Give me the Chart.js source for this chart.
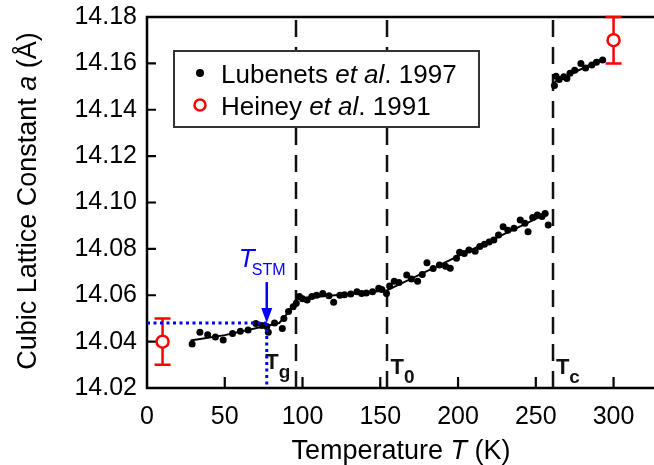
<!DOCTYPE html>
<html>
<head>
<meta charset="utf-8">
<script src="https://cdn.jsdelivr.net/npm/chart.js@4.4.0/dist/chart.umd.min.js"></script>
<style>
  html, body { margin: 0; padding: 0; background: #fff; }
  #wrap { width: 654px; height: 465px; }
</style>
</head>
<body>
<div id="wrap"><canvas id="chart" width="654" height="465"></canvas></div>
<script>
var FONT = "'Liberation Sans', Arial, sans-serif";

// Lubenets et al. 1997 (T in K, a in Angstrom)
var lubT = [29, 34, 39, 44, 49, 55, 60, 65, 70, 74, 77, 78, 82, 87, 88, 91, 94, 96,
  98, 100, 103, 106, 109, 113, 117, 120, 124, 127, 131, 135, 138, 141, 145, 149, 151, 154,
  156, 159, 162, 167, 170, 174, 177, 180, 184, 188, 192, 195, 199, 201, 204, 207, 211, 214,
  217, 220, 223, 226, 229, 232, 236, 240, 243, 245, 248, 251, 254, 256, 258,
  262, 263, 265, 268, 270, 272, 275, 279, 282, 286, 289, 293];
var lubA = [14.0390, 14.0440, 14.0430, 14.0420, 14.0407, 14.0435, 14.0445, 14.0450, 14.0478, 14.0470, 14.0465, 14.0440, 14.0480, 14.0457, 14.0500, 14.0530, 14.0550, 14.0565,
  14.0595, 14.0585, 14.0580, 14.0595, 14.0600, 14.0608, 14.0598, 14.0570, 14.0600, 14.0602, 14.0605, 14.0615, 14.0608, 14.0610, 14.0615, 14.0630, 14.0625, 14.0608,
  14.0640, 14.0660, 14.0655, 14.0687, 14.0670, 14.0660, 14.0690, 14.0740, 14.0715, 14.0730, 14.0725, 14.0716, 14.0760, 14.0785, 14.0780, 14.0795, 14.0790, 14.0810,
  14.0820, 14.0830, 14.0838, 14.0860, 14.0895, 14.0880, 14.0889, 14.0924, 14.0910, 14.0874, 14.0935, 14.0946, 14.0940, 14.0953, 14.0903,
  14.1505, 14.1545, 14.1530, 14.1542, 14.1535, 14.1557, 14.1570, 14.1600, 14.1580, 14.1593, 14.1605, 14.1615];

// fitted lines through the Lubenets data
var fitLowT = [28, 50, 75, 85, 90, 96];
var fitLowA = [14.0405, 14.0428, 14.0465, 14.0480, 14.0520, 14.0575];
var fitMidT = [96, 154, 258];
var fitMidA = [14.0585, 14.0620, 14.0955];
var fitHighT = [262, 293];
var fitHighA = [14.1520, 14.1620];

// Heiney et al. 1991
var heineyT = [10, 300];
var heineyA = [14.040, 14.170];
var heineyErr = [0.010, 0.010];

// transition temperatures
var transT = [96, 154, 261];
var transSub = ["g", "0", "c"];

// STM temperature marker
var stmT = 77;
var stmA = 14.048;

// axes
var xMin = 0, xMax = 326, xStep = 50;
var yMin = 14.02, yMax = 14.18, yStep = 0.02;

function pts(xs, ys) {
  return xs.map(function(x, i) { return { x: x, y: ys[i] }; });
}

function richText(ctx, parts, x, y, align) {
  var total = 0;
  parts.forEach(function(p) { ctx.font = p.f; p.w = ctx.measureText(p.t).width; total += p.w; });
  var cx = align === "center" ? x - total / 2 : x;
  ctx.textAlign = "left";
  parts.forEach(function(p) {
    ctx.font = p.f;
    ctx.fillText(p.t, cx, y + (p.dy || 0));
    cx += p.w;
  });
}

var extras = {
  id: "extras",
  beforeDatasetsDraw: function(chart) {
    var ctx = chart.ctx, xs = chart.scales.x, ys = chart.scales.y, ca = chart.chartArea;
    ctx.save();
    // frame: left, bottom, top
    ctx.strokeStyle = "#000";
    ctx.lineWidth = 2.5;
    ctx.beginPath();
    ctx.moveTo(ca.right, ca.top); ctx.lineTo(ca.left, ca.top);
    ctx.lineTo(ca.left, ca.bottom); ctx.lineTo(ca.right, ca.bottom);
    ctx.stroke();
    // inward ticks
    ctx.lineWidth = 2.2;
    ctx.beginPath();
    for (var v = yMin + yStep; v < yMax - yStep / 2; v += yStep) {
      var py = ys.getPixelForValue(v);
      ctx.moveTo(ca.left, py); ctx.lineTo(ca.left + 9, py);
    }
    for (var t = xMin + xStep; t <= xMax; t += xStep) {
      var px = xs.getPixelForValue(t);
      ctx.moveTo(px, ca.bottom); ctx.lineTo(px, ca.bottom - 11);
    }
    ctx.stroke();
    // dashed transition lines
    ctx.strokeStyle = "#111";
    ctx.lineWidth = 2.5;
    ctx.setLineDash([17, 10]);
    transT.forEach(function(tt) {
      var px = Math.round(xs.getPixelForValue(tt));
      ctx.beginPath(); ctx.moveTo(px, ca.top + 3); ctx.lineTo(px, ca.bottom); ctx.stroke();
    });
    ctx.setLineDash([]);
    // error bars
    ctx.strokeStyle = "#ff0000";
    ctx.lineWidth = 2.5;
    heineyT.forEach(function(tt, i) {
      var px = xs.getPixelForValue(tt);
      var top = ys.getPixelForValue(heineyA[i] + heineyErr[i]);
      var bot = ys.getPixelForValue(heineyA[i] - heineyErr[i]);
      ctx.beginPath();
      ctx.moveTo(px, top); ctx.lineTo(px, bot);
      ctx.moveTo(px - 8, top); ctx.lineTo(px + 8, top);
      ctx.moveTo(px - 8, bot); ctx.lineTo(px + 8, bot);
      ctx.stroke();
    });
    ctx.restore();
  },
  afterDatasetsDraw: function(chart) {
    var ctx = chart.ctx, xs = chart.scales.x, ys = chart.scales.y, ca = chart.chartArea;
    ctx.save();
    ctx.textBaseline = "alphabetic";

    // transition labels
    ctx.fillStyle = "#111";
    var labelDx = [-31, 4, 3];
    transT.forEach(function(tt, i) {
      var px = xs.getPixelForValue(tt) + labelDx[i];
      var base = i === 0 ? ca.bottom - 19 : ca.bottom - 14;
      richText(ctx, [
        { t: "T", f: "bold 22px " + FONT },
        { t: transSub[i], f: "bold 19px " + FONT, dy: 9 }
      ], px, base, "left");
    });

    // STM guide lines
    var sx = xs.getPixelForValue(stmT), sy = ys.getPixelForValue(stmA);
    ctx.strokeStyle = "#0000ff";
    ctx.lineWidth = 3;
    ctx.setLineDash([3, 3.5]);
    ctx.beginPath();
    ctx.moveTo(ca.left, sy); ctx.lineTo(sx, sy);
    ctx.moveTo(sx, sy); ctx.lineTo(sx, ca.bottom);
    ctx.stroke();
    ctx.setLineDash([]);
    // arrow
    ctx.lineWidth = 2.5;
    ctx.beginPath(); ctx.moveTo(sx, sy - 41); ctx.lineTo(sx, sy - 12); ctx.stroke();
    ctx.fillStyle = "#0000ff";
    ctx.beginPath(); ctx.moveTo(sx - 5.5, sy - 15); ctx.lineTo(sx + 5.5, sy - 15); ctx.lineTo(sx, sy); ctx.closePath(); ctx.fill();
    ctx.font = "italic 26px " + FONT;
    ctx.textAlign = "left";
    ctx.fillText("T", sx - 28, sy - 56);
    ctx.font = "16px " + FONT;
    ctx.fillText("STM", sx - 15, sy - 48);

    // legend
    var lx = ca.left + 27, ly = ca.top + 34, lw = 305, lh = 76;
    ctx.fillStyle = "#fff";
    ctx.fillRect(lx, ly, lw, lh);
    ctx.strokeStyle = "#333";
    ctx.lineWidth = 2;
    ctx.strokeRect(lx, ly, lw, lh);
    ctx.fillStyle = "#000";
    ctx.beginPath(); ctx.arc(lx + 26, ly + 22, 4, 0, Math.PI * 2); ctx.fill();
    ctx.strokeStyle = "#ff0000";
    ctx.lineWidth = 2.5;
    ctx.fillStyle = "#fff";
    ctx.beginPath(); ctx.arc(lx + 26, ly + 54, 5.5, 0, Math.PI * 2); ctx.fill(); ctx.stroke();
    ctx.fillStyle = "#000";
    richText(ctx, [
      { t: "Lubenets ", f: "26px " + FONT },
      { t: "et al", f: "italic 26px " + FONT },
      { t: ". 1997", f: "26px " + FONT }
    ], lx + 47, ly + 32, "left");
    richText(ctx, [
      { t: "Heiney ", f: "26px " + FONT },
      { t: "et al", f: "italic 26px " + FONT },
      { t: ". 1991", f: "26px " + FONT }
    ], lx + 47, ly + 64, "left");

    // axis titles
    richText(ctx, [
      { t: "Temperature ", f: "27px " + FONT },
      { t: "T", f: "italic 27px " + FONT },
      { t: " (K)", f: "27px " + FONT }
    ], 401, 459, "center");
    ctx.save();
    ctx.translate(36, 201);
    ctx.rotate(-Math.PI / 2);
    richText(ctx, [
      { t: "Cubic Lattice Constant ", f: "27px " + FONT },
      { t: "a", f: "italic 27px " + FONT },
      { t: " (\u00C5)", f: "27px " + FONT }
    ], 0, 0, "center");
    ctx.restore();

    ctx.restore();
  }
};

new Chart(document.getElementById("chart"), {
  type: "scatter",
  data: {
    datasets: [
      { label: "Heiney et al. 1991", data: pts(heineyT, heineyA), pointRadius: 6, pointHoverRadius: 6,
        borderColor: "#ff0000", backgroundColor: "#ffffff", borderWidth: 2.5 },
      { label: "Lubenets et al. 1997", data: pts(lubT, lubA), pointRadius: 3.5, pointHoverRadius: 3.5,
        borderColor: "#000", backgroundColor: "#000", borderWidth: 0 },
      { label: "fit low", data: pts(fitLowT, fitLowA), showLine: true, pointRadius: 0, borderColor: "#000", borderWidth: 2 },
      { label: "fit mid", data: pts(fitMidT, fitMidA), showLine: true, pointRadius: 0, borderColor: "#000", borderWidth: 2 },
      { label: "fit high", data: pts(fitHighT, fitHighA), showLine: true, pointRadius: 0, borderColor: "#000", borderWidth: 2 }
    ]
  },
  options: {
    responsive: false,
    animation: false,
    devicePixelRatio: 1,
    layout: { autoPadding: false, padding: { top: 17, right: 0, left: 0, bottom: 0 } },
    plugins: { legend: { display: false }, tooltip: { enabled: false } },
    events: [],
    scales: {
      x: {
        type: "linear", min: xMin, max: xMax,
        grid: { display: false, drawTicks: false },
        border: { display: false },
        ticks: { stepSize: xStep, includeBounds: false, padding: 14, color: "#000", font: { family: FONT, size: 25 } },
        afterFit: function(scale) { scale.height = 77; scale.paddingLeft = 0; scale.paddingRight = 0; }
      },
      y: {
        type: "linear", min: yMin, max: yMax,
        grid: { display: false, drawTicks: false },
        border: { display: false },
        ticks: { stepSize: yStep, padding: 10, color: "#000", font: { family: FONT, size: 25 },
          callback: function(v) { return v.toFixed(2); } },
        afterFit: function(scale) { scale.width = 147; scale.paddingTop = 0; scale.paddingBottom = 0; }
      }
    }
  },
  plugins: [extras]
});
</script>
</body>
</html>
